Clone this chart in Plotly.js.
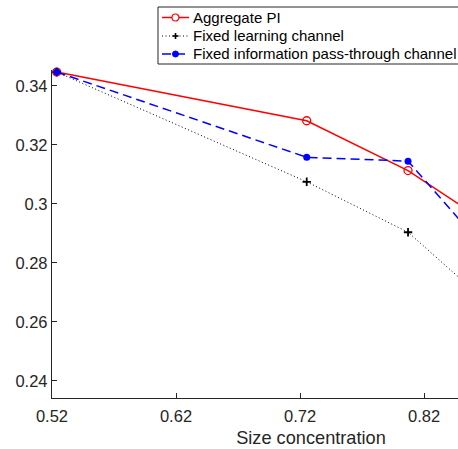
<!DOCTYPE html>
<html>
<head>
<meta charset="utf-8">
<script src="https://cdn.plot.ly/plotly-3.0.1.min.js"></script>
<style>
html, body { margin: 0; padding: 0; overflow: hidden; background: #fff; }
#chart { width: 570px; height: 449px; }
</style>
</head>
<body>
<div id="chart"></div>
<script>
// Data
const sizeConcentration = [0.5238, 0.7254, 0.8071, 0.9377];
const aggregatePI = [0.3447, 0.3282, 0.3113, 0.2750];
const fixedLearning = [0.3447, 0.3075, 0.2904, 0.2416];
const fixedPassThrough = [0.3447, 0.3158, 0.3145, 0.2519];
const seriesNames = ["Aggregate PI", "Fixed learning channel", "Fixed information pass-through channel"];
const xTicks = [0.52, 0.62, 0.72, 0.82];
const yTicks = [0.24, 0.26, 0.28, 0.30, 0.32, 0.34];
const yTickText = ["0.24", "0.26", "0.28", "0.3", "0.32", "0.34"];

const font = "Liberation Sans, Arial, Helvetica, sans-serif";
const axisColor = "#262626";

// plot-area geometry (pixels) used to place the hand-made legend
const ML = 52, MT = 70, MB = 51, W = 570, H = 449;
const PW = W - ML, PH = H - MT - MB;
const px = p => (p - ML) / PW;
const py = p => (H - MB - p) / PH;

const styles = [
  { line: { color: "#ff0000", width: 1.5 },
    marker: { symbol: "circle-open", size: 8, color: "#ff0000", line: { width: 1.3, color: "#ff0000" } } },
  { line: { color: "#000000", width: 1, dash: "1px,2.5px" },
    marker: { symbol: "cross-thin", size: 6, color: "#000000", line: { width: 1.8, color: "#000000" } } },
  { line: { color: "#0000ff", width: 1.5, dash: "9px,5px" },
    marker: { symbol: "circle", size: 7, color: "#0000ff" } }
];
const seriesY = [aggregatePI, fixedLearning, fixedPassThrough];

const traces = seriesY.map((ys, i) => ({
  x: sizeConcentration, y: ys, name: seriesNames[i],
  type: "scatter", mode: "lines+markers", cliponaxis: false, showlegend: false,
  line: styles[i].line, marker: styles[i].marker
}));

// custom legend (shapes + annotations) to match the compact MATLAB legend
const rowsY = [17.5, 36, 54];
const shapes = [{
  type: "rect", xref: "paper", yref: "paper", layer: "above",
  x0: px(158), x1: px(463), y0: py(64), y1: py(7),
  line: { color: axisColor, width: 1 }, fillcolor: "#ffffff"
}];
const annotations = [];
rowsY.forEach((ry, i) => {
  const st = styles[i];
  shapes.push({
    type: "line", xref: "paper", yref: "paper", layer: "above",
    x0: px(162), x1: px(189), y0: py(ry), y1: py(ry),
    line: { color: st.line.color, width: st.line.width, dash: st.line.dash || "solid" }
  });
  const mx = px(175.5), my = py(ry);
  if (i === 0) {
    shapes.push({ type: "circle", xref: "paper", yref: "paper", layer: "above",
      xsizemode: "pixel", ysizemode: "pixel", xanchor: mx, yanchor: my,
      x0: -3.5, x1: 3.5, y0: -3.5, y1: 3.5,
      line: { color: "#ff0000", width: 1.2 }, fillcolor: "#ffffff" });
  } else if (i === 1) {
    shapes.push({ type: "line", xref: "paper", yref: "paper", layer: "above",
      xsizemode: "pixel", ysizemode: "pixel", xanchor: mx, yanchor: my,
      x0: -3, x1: 3, y0: 0, y1: 0, line: { color: "#000000", width: 1.6 } });
    shapes.push({ type: "line", xref: "paper", yref: "paper", layer: "above",
      xsizemode: "pixel", ysizemode: "pixel", xanchor: mx, yanchor: my,
      x0: 0, x1: 0, y0: -3, y1: 3, line: { color: "#000000", width: 1.6 } });
  } else {
    shapes.push({ type: "circle", xref: "paper", yref: "paper", layer: "above",
      xsizemode: "pixel", ysizemode: "pixel", xanchor: mx, yanchor: my,
      x0: -3, x1: 3, y0: -3, y1: 3,
      line: { color: "#0000ff", width: 1 }, fillcolor: "#0000ff" });
  }
  annotations.push({
    xref: "paper", yref: "paper", x: px(192), y: my, xanchor: "left", yanchor: "middle",
    text: seriesNames[i], showarrow: false, borderpad: 0,
    font: { family: font, size: 15, color: "#000000" }
  });
});

const layout = {
  width: W, height: H,
  margin: { l: ML, r: 0, t: MT, b: MB },
  paper_bgcolor: "#ffffff", plot_bgcolor: "#ffffff",
  font: { family: font, size: 16.5, color: axisColor },
  showlegend: false,
  shapes: shapes,
  annotations: annotations,
  xaxis: {
    range: [0.52, 0.9377],
    tickvals: xTicks, ticktext: xTicks.map(v => v.toFixed(2)),
    ticks: "inside", ticklen: 5, tickwidth: 1, tickcolor: axisColor,
    showline: true, linecolor: axisColor, linewidth: 1.2,
    showgrid: false, zeroline: false, ticklabelstandoff: 3,
    tickfont: { family: font, size: 16.5, color: axisColor },
    title: { text: "Size concentration", font: { family: font, size: 18.2, color: axisColor }, standoff: 7 }
  },
  yaxis: {
    range: [0.2342, 0.3454],
    tickvals: yTicks, ticktext: yTickText,
    ticks: "inside", ticklen: 5, tickwidth: 1, tickcolor: axisColor,
    showline: true, linecolor: axisColor, linewidth: 1.2,
    showgrid: false, zeroline: false,
    tickfont: { family: font, size: 16.5, color: axisColor }
  }
};

Plotly.newPlot("chart", traces, layout, { displayModeBar: false, staticPlot: true });
</script>
</body>
</html>
